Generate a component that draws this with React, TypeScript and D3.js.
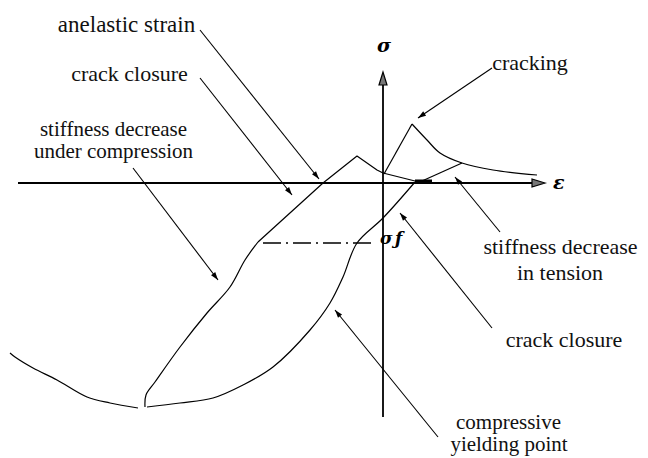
import React from 'react';
import * as d3 from 'd3';

const W = 648;
const H = 458;

type P = [number, number];

// Schematic strain (x) / stress (y) coordinates, origin at the axis crossing
const tensionRise: P[] = [[0.1, 0.9], [2.9, 5.9]];
const tensionSoftening: P[] = [[2.9, 5.9], [4.4, 4.3], [5.7, 3.0], [7.9, 2.0], [11.0, 1.3], [15.4, 0.8]];
const tensionUnloading: P[] = [[7.9, 2.0], [3.9, 0.2]];
const crackClosureSegment: P[] = [[3.2, 0.2], [4.9, 0.2]];
const compressiveLoading: P[] = [
  [3.2, 0.1], [0, -3.5], [-2.6, -6.0], [-4.0, -9.4], [-5.3, -12.0], [-7.3, -14.7],
  [-11.0, -18.4], [-14.0, -20.2], [-17.0, -21.5], [-20.3, -22.0], [-23.6, -22.4],
];
const reloadingCurve: P[] = [
  [-23.8, -22.4], [-23.7, -21.2], [-22.8, -19.9], [-20.3, -16.4], [-17.6, -13.0],
  [-15.3, -10.4], [-13.8, -7.7], [-12.5, -5.9],
];
const reloadingLine: P[] = [[-12.5, -5.9], [-6.0, 0], [-2.6, 2.7], [-0.6, 1.3], [0, 1.0], [3.2, 0.2]];
const compressiveSoftening: P[] = [
  [-37.3, -17.0], [-36.8, -17.4], [-35.0, -18.5], [-32.6, -19.7], [-29.6, -21.4], [-27.3, -22.0], [-24.5, -22.5],
];
const yieldLevel: P[] = [[-12.0, -6.0], [-1.0, -6.0]];

const strainAxis: [number, number] = [-36.5, 16.2];
const stressAxis: [number, number] = [-23.4, 11.1];

// annotation texts and their leader lines (from -> arrow tip), schematic units
const labelTexts: string[][] = [
  ['anelastic strain'],
  ['crack closure'],
  ['stiffness decrease', 'under compression'],
  ['cracking'],
  ['stiffness decrease', 'in tension'],
  ['crack closure'],
  ['compressive', 'yielding point'],
];
const leaderFrom: P[] = [[-18.3, 15.3], [-18.3, 10.5], [-25.0, 1.5], [10.9, 11.5], [11.7, -4.9], [10.9, -14.5], [5.5, -25.4]];
const leaderTo: P[] = [[-6.4, 0.4], [-9.1, -1.2], [-16.5, -9.7], [3.5, 6.5], [7.2, 0.6], [1.7, -3.0], [-4.8, -12.7]];

// label layout: [centerX, baselineY, fontSize] per line (pixels)
const labelLayout: [number, number, number][][] = [
  [[126.5, 32, 23]],
  [[129.5, 81, 22]],
  [[113.5, 137, 21], [113.5, 159, 21]],
  [[530, 70, 22]],
  [[560.5, 254, 22], [560, 280, 22]],
  [[564, 347, 22]],
  [[508.5, 430, 21], [509, 452, 21]],
];

const x = d3.scaleLinear().domain([-38.3, 26.5]).range([0, W]);
const y = d3.scaleLinear().domain([18.3, -27.5]).range([0, H]);

const linear = d3.line<P>().x(d => x(d[0])).y(d => y(d[1])).curve(d3.curveLinear);
const smooth = d3.line<P>().x(d => x(d[0])).y(d => y(d[1])).curve(d3.curveCatmullRom.alpha(0.5));

function arrowHead(from: P, to: P, len = 8, half = 2.6): string {
  const x1 = x(from[0]), y1 = y(from[1]), x2 = x(to[0]), y2 = y(to[1]);
  const a = Math.atan2(y2 - y1, x2 - x1);
  const bx = x2 - len * Math.cos(a), by = y2 - len * Math.sin(a);
  const px = -Math.sin(a) * half, py = Math.cos(a) * half;
  return `M${x2},${y2}L${bx + px},${by + py}L${bx - px},${by - py}Z`;
}

const SERIF = "'Liberation Serif', 'Times New Roman', Times, serif";
const SYMBOL = 'DejaVu Serif';

export default function App() {
  const ox = x(0), oy = y(0);
  const axisW = 1.8;
  const curveW = 1.2;
  return (
    <div style={{ position: 'absolute', left: 0, top: 0, width: W, height: H, background: '#fff' }}>
      <svg width={W} height={H} style={{ position: 'absolute', left: 0, top: 0 }}>
        <rect width={W} height={H} fill="#fff" />
        {/* axes */}
        <line x1={x(strainAxis[0])} y1={oy} x2={x(strainAxis[1]) - 10} y2={oy} stroke="#000" strokeWidth={axisW} />
        <line x1={ox} y1={y(stressAxis[0])} x2={ox} y2={y(stressAxis[1]) + 10} stroke="#000" strokeWidth={axisW} />
        <path
          d={`M${x(strainAxis[1])},${oy}L${x(strainAxis[1]) - 13},${oy - 4}L${x(strainAxis[1]) - 13},${oy + 4}Z`}
          fill="#777" stroke="#000" strokeWidth={1.2}
        />
        <path
          d={`M${ox},${y(stressAxis[1])}L${ox - 4},${y(stressAxis[1]) + 13}L${ox + 4},${y(stressAxis[1]) + 13}Z`}
          fill="#777" stroke="#000" strokeWidth={1.2}
        />
        <text x={x(strainAxis[1]) + 8} y={oy + 6} fontFamily={SYMBOL} fontStyle="italic" fontWeight="bold" fontSize={19}>ε</text>
        <text x={ox - 6} y={y(stressAxis[1]) - 20} fontFamily={SYMBOL} fontStyle="italic" fontWeight="bold" fontSize={19}>σ</text>

        {/* curves */}
        <g fill="none" stroke="#000" strokeWidth={curveW} strokeLinejoin="round">
          <path d={linear(tensionRise) || ''} />
          <path d={smooth(tensionSoftening) || ''} />
          <path d={linear(tensionUnloading) || ''} />
          <path d={smooth(compressiveLoading) || ''} />
          <path d={smooth(reloadingCurve) || ''} />
          <path d={linear(reloadingLine) || ''} />
          <path d={smooth(compressiveSoftening) || ''} />
        </g>
        <path d={linear(crackClosureSegment) || ''} stroke="#000" strokeWidth={3} fill="none" />
        <path d={linear(yieldLevel) || ''} stroke="#000" strokeWidth={1.3} fill="none" strokeDasharray="18 5 2 5" />
        <text x={x(yieldLevel[1][0]) + 7} y={y(yieldLevel[1][1]) + 1} fontFamily={SYMBOL} fontStyle="italic" fontWeight="bold" fontSize={17}>σ</text>
        <text x={x(yieldLevel[1][0]) + 22} y={y(yieldLevel[1][1]) + 1} fontFamily={SYMBOL} fontStyle="italic" fontWeight="bold" fontSize={17}>ƒ</text>

        {/* leaders */}
        <g>
          {leaderFrom.map((f, i) => (
            <g key={i}>
              <line x1={x(f[0])} y1={y(f[1])} x2={x(leaderTo[i][0])} y2={y(leaderTo[i][1])} stroke="#000" strokeWidth={1.1} />
              <path d={arrowHead(f, leaderTo[i])} fill="#000" />
            </g>
          ))}
        </g>
      </svg>

      {/* labels as HTML text over the svg */}
      {labelTexts.map((lines, i) =>
        lines.map((t, j) => {
          const [cx, by, fs] = labelLayout[i][j];
          return (
            <div
              key={`${i}-${j}`}
              style={{
                position: 'absolute',
                left: cx,
                top: by - 0.8375 * fs,
                transform: 'translateX(-50%)',
                fontFamily: SERIF,
                fontSize: fs,
                lineHeight: `${fs}px`,
                whiteSpace: 'nowrap',
                color: '#111',
              }}
            >
              {t}
            </div>
          );
        })
      )}
    </div>
  );
}
